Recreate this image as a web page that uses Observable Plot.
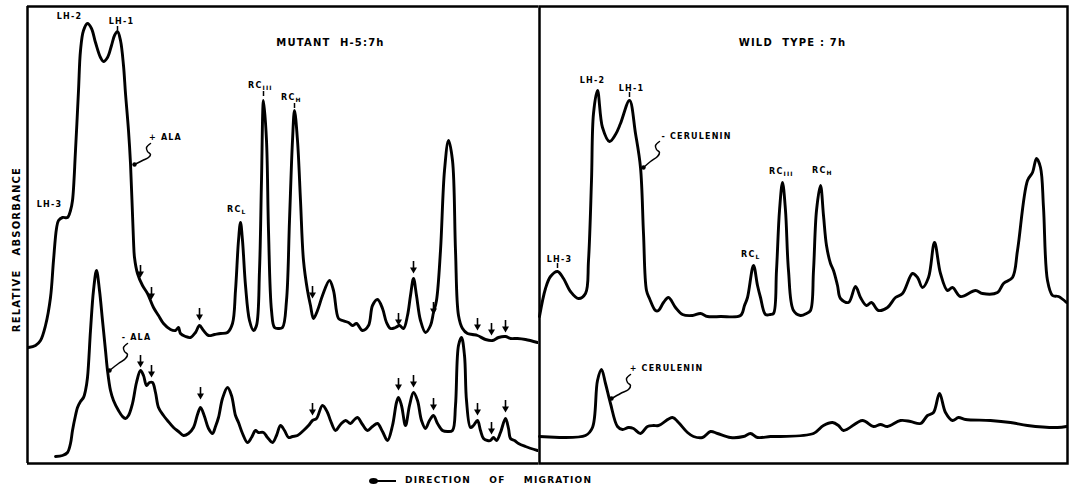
<!DOCTYPE html>
<html><head><meta charset="utf-8">
<script src="https://cdn.jsdelivr.net/npm/d3@7"></script>
<script src="https://cdn.jsdelivr.net/npm/@observablehq/plot@0.6"></script>
<style>
body{margin:0;background:#fff;font-family:"DejaVu Sans",sans-serif;}
#row{display:flex;width:1069px;}
#cap{position:relative;height:25px;width:1069px;}
#cap .arr{position:absolute;left:373px;top:15px;width:23px;height:2px;background:#000;}
#cap .head{position:absolute;left:369px;top:13px;width:9px;height:6px;border-radius:50%;background:#000;}
#cap .txt{position:absolute;left:405px;top:10px;font-weight:bold;font-size:9px;letter-spacing:1.2px;word-spacing:14px;white-space:pre;}
</style></head><body>
<div id="row"></div>
<div id="cap"><div class="arr"></div><div class="head"></div><div class="txt">DIRECTION OF MIGRATION</div></div>
<script>
// Densitometer traces: [migration distance, relative absorbance] (arbitrary units)
const mutantPlusALA = [[1,116],[8,118],[13,123],[18,138],[23,166],[26,203],[29,235],[31,243],[35,246],[40,246],[43,253],[45,263],[48,313],[51,373],[53,413],[56,433],[60,440],[64,435],[68,421],[73,406],[76,402],[80,406],[84,418],[87,428],[90,432],[93,423],[96,398],[98,370],[101,333],[103,300],[106,223],[107,206],[110,190],[115,178],[120,170],[126,156],[131,148],[136,140],[143,134],[148,133],[151,136],[153,130],[158,127],[163,126],[168,131],[172,138],[176,133],[181,128],[187,129],[193,130],[200,131],[205,140],[208,173],[211,223],[213,241],[215,223],[218,178],[222,143],[226,133],[229,138],[232,193],[234,283],[236,363],[239,323],[241,233],[244,153],[247,136],[251,135],[255,136],[259,163],[262,243],[265,323],[267,353],[270,323],[273,263],[276,203],[280,173],[283,158],[286,145],[290,153],[295,168],[302,183],[306,173],[311,145],[315,143],[321,141],[325,138],[329,140],[335,133],[341,138],[345,158],[350,164],[355,155],[359,141],[363,135],[368,136],[372,138],[376,135],[380,148],[383,168],[386,185],[389,168],[393,143],[398,131],[403,138],[406,151],[409,163],[413,213],[417,293],[421,323],[425,303],[428,213],[431,148],[435,135],[440,130],[445,129],[450,128],[458,124],[465,123],[471,126],[478,127],[483,125],[490,125],[498,124],[510,121]];
const mutantMinusALA = [[28,7],[35,8],[40,11],[43,20],[45,33],[48,48],[50,56],[53,62],[56,66],[58,73],[60,86],[63,133],[66,173],[69,193],[72,173],[75,143],[78,113],[80,93],[83,73],[86,63],[91,53],[95,47],[98,45],[101,48],[105,60],[109,81],[113,93],[116,88],[119,78],[122,81],[125,81],[128,71],[131,56],[136,48],[140,43],[146,36],[151,32],[156,28],[161,30],[166,36],[170,49],[173,56],[177,47],[181,35],[185,30],[188,37],[191,46],[195,65],[200,76],[204,68],[208,48],[211,41],[215,30],[220,21],[224,26],[228,33],[231,31],[236,31],[240,26],[245,21],[249,28],[253,38],[257,33],[261,26],[265,27],[270,28],[276,33],[281,38],[285,43],[289,45],[295,58],[300,51],[303,43],[308,33],[313,39],[318,43],[323,40],[327,44],[330,46],[335,39],[340,33],[345,37],[350,40],[355,32],[360,23],[365,38],[369,61],[371,66],[374,58],[378,38],[382,58],[386,71],[390,63],[394,43],[398,35],[402,43],[406,48],[410,40],[415,33],[420,32],[425,33],[428,58],[431,118],[434,126],[437,108],[439,63],[443,36],[446,38],[450,43],[453,33],[456,25],[460,23],[463,23],[466,26],[469,23],[473,31],[478,45],[481,35],[483,25],[487,23],[491,20],[498,17],[510,13]];
const wildMinusCerulenin = [[0,147],[6,175],[11,187],[18,192],[24,185],[31,172],[39,165],[46,170],[49,203],[52,283],[54,350],[58,373],[63,336],[70,322],[76,329],[81,340],[90,363],[96,330],[101,296],[104,230],[107,173],[110,165],[116,153],[119,153],[124,161],[129,166],[136,156],[143,149],[153,148],[161,150],[168,147],[181,147],[201,148],[205,158],[208,166],[214,198],[218,178],[221,166],[226,149],[231,149],[234,150],[237,193],[240,253],[243,281],[246,253],[249,193],[254,153],[261,148],[267,150],[271,153],[274,193],[277,253],[281,278],[284,248],[287,218],[291,200],[294,193],[298,178],[301,165],[309,161],[316,177],[321,166],[327,158],[332,161],[339,153],[348,156],[356,166],[363,170],[373,190],[378,186],[383,176],[389,186],[395,221],[401,190],[408,173],[413,176],[421,167],[436,173],[443,170],[458,171],[464,180],[473,186],[478,213],[488,283],[493,291],[497,305],[501,296],[504,256],[508,183],[513,168],[519,167],[527,161]];
const wildPlusCerulenin = [[0,27],[46,28],[53,36],[58,83],[62,94],[66,80],[71,60],[78,37],[83,34],[89,36],[94,35],[101,30],[108,37],[114,38],[119,38],[133,46],[139,41],[148,31],[154,27],[163,26],[171,32],[178,30],[191,26],[204,27],[211,30],[218,26],[231,27],[241,27],[274,30],[284,38],[293,41],[299,38],[304,33],[323,43],[334,37],[341,39],[348,37],[361,43],[371,42],[381,40],[388,48],[394,51],[400,70],[406,51],[413,43],[419,46],[426,44],[451,43],[471,41],[488,38],[518,36],[527,37]];

// Marked bands (down arrows): [distance, absorbance at arrow head]
const mutantPlusArrows = [[113,188],[124,166],[172,145],[285,167],[371,140],[386,192],[406,151],[450,135],[464,130],[478,133]];
const mutantMinusArrows = [[113,98],[124,88],[173,66],[285,50],[371,75],[386,78],[406,55],[450,50],[464,31],[478,53]];

// Band labels
const mutantLH = [["LH-2",42,447],["LH-1",94,442],["LH-3",22,259]];
const mutantRC = [["L",214,254],["III",235,378],["H",268,366]];
const mutantTicks = [[90,437,433],[236,372,367],[267,360,355]];
const wildLH = [["LH-2",53,383],["LH-1",92,375],["LH-3",20,204]];
const wildRC = [["L",216,209],["III",244,292],["H",287,293]];
const wildTicks = [[90,371,366],[18,200,195]];

// Condition annotations with pointers
const mutantNotes = [["+ ALA",138,326],["- ALA",109,126]];
const mutantPointers = [
  [[123,320],[119,316],[120,312],[123,309],[121,306],[115,303],[107,299]],
  [[100,120],[96,116],[97,112],[100,109],[98,105],[91,100],[82,93]]
];
const wildNotes = [["- CERULENIN",157,327],["+ CERULENIN",127,95]];
const wildPointers = [
  [[120,322],[116,318],[117,314],[120,311],[118,307],[111,302],[104,296]],
  [[91,89],[87,85],[88,81],[91,78],[89,74],[81,70],[72,65]]
];
const titles = ["MUTANT  H-5:7h", "WILD  TYPE : 7h"];
const yLabel = "RELATIVE\u00a0\u00a0\u00a0ABSORBANCE";

const toPts = a => a.map(([x, y]) => ({x, y}));
const lw = 2.9;

function panelMarks(traces, lh, rc, ticks, notes, pointers, arrows, title, titlePos) {
  const m = [];
  for (const t of traces) m.push(Plot.line(toPts(t), {x: "x", y: "y", curve: "catmull-rom", stroke: "black", strokeWidth: lw}));
  for (const a of arrows) {
    const pts = toPts(a);
    m.push(Plot.ruleX(pts, {x: "x", y1: d => d.y + 2, y2: d => d.y + 10, stroke: "black", strokeWidth: 1.6}));
    m.push(Plot.dot(pts, {x: "x", y: d => d.y + 2, r: 2.6, symbol: "triangle", rotate: 180, fill: "black", stroke: null}));
  }
  m.push(Plot.text(lh, {x: d => d[1], y: d => d[2], text: d => d[0], fontSize: 8, fontWeight: "bold", fill: "black"}));
  m.push(Plot.text(rc, {x: d => d[1], y: d => d[2], text: () => "RC", textAnchor: "end", fontSize: 8, fontWeight: "bold", fill: "black"}));
  m.push(Plot.text(rc, {x: d => d[1], y: d => d[2], text: d => d[0], textAnchor: "start", dy: 3, dx: 0, fontSize: 6, fontWeight: "bold", fill: "black"}));
  m.push(Plot.ruleX(ticks, {x: d => d[0], y1: d => d[1], y2: d => d[2], stroke: "black", strokeWidth: 1.5}));
  m.push(Plot.text(notes, {x: d => d[1], y: d => d[2], text: d => d[0], fontSize: 8, fontWeight: "bold", fill: "black"}));
  for (const p of pointers) {
    m.push(Plot.line(toPts(p), {x: "x", y: "y", curve: "catmull-rom", stroke: "black", strokeWidth: 1.5}));
    m.push(Plot.dot(toPts(p).slice(-1), {x: "x", y: "y", r: 2.2, fill: "black", stroke: null}));
  }
  m.push(Plot.text([title], {x: titlePos[0], y: titlePos[1], text: d => d, fontSize: 10, fontWeight: "bold", fill: "black"}));
  return m;
}

const style = {fontFamily: "'DejaVu Sans', sans-serif", letterSpacing: "1.2px", background: "white", overflow: "visible"};

const left = Plot.plot({
  width: 538, height: 465, marginLeft: 27, marginRight: 0, marginTop: 6, marginBottom: 2,
  x: {domain: [0, 511], axis: null},
  y: {domain: [0, 457], axis: null},
  style,
  marks: [
    Plot.ruleX([0], {stroke: "black", strokeWidth: 2.5}),
    Plot.ruleY([0, 457], {stroke: "black", strokeWidth: 2.5}),
    ...panelMarks([mutantPlusALA, mutantMinusALA], mutantLH, mutantRC, mutantTicks, mutantNotes, mutantPointers,
      [mutantPlusArrows, mutantMinusArrows], titles[0], [303, 421]),
    Plot.text([yLabel], {x: -11, y: 214, text: d => d, rotate: -90, fontSize: 10, fontWeight: "bold", fill: "black"})
  ]
});

const right = Plot.plot({
  width: 531, height: 465, marginLeft: 1, marginRight: 2, marginTop: 6, marginBottom: 2,
  x: {domain: [0, 528], axis: null},
  y: {domain: [0, 457], axis: null},
  style,
  marks: [
    Plot.frame({stroke: "black", strokeWidth: 2.5}),
    ...panelMarks([wildMinusCerulenin, wildPlusCerulenin], wildLH, wildRC, wildTicks, wildNotes, wildPointers,
      [], titles[1], [253, 421])
  ]
});

document.getElementById("row").append(left, right);
</script>
</body></html>
